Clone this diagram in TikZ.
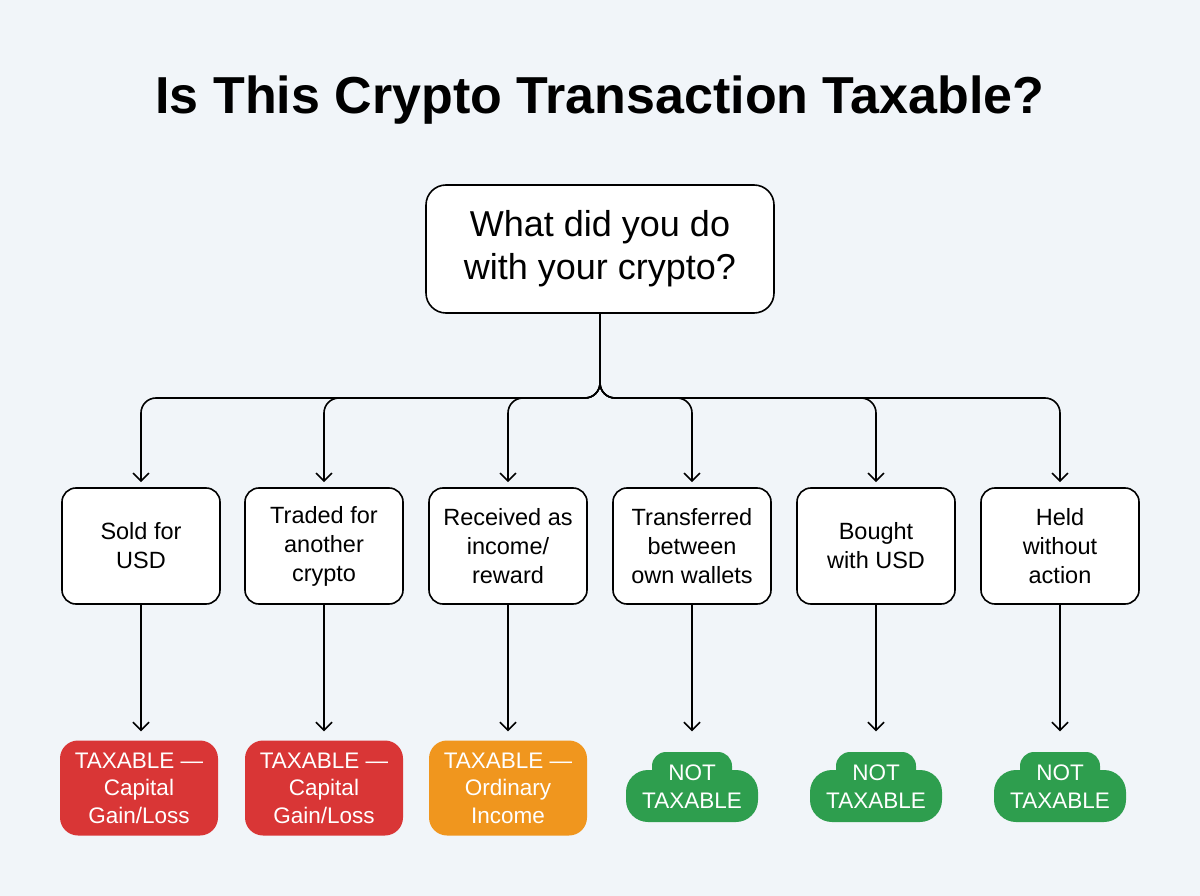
\documentclass[tikz,border=0pt]{standalone}
\usepackage{fontspec}
\setmainfont{Liberation Sans}
\usetikzlibrary{arrows.meta,calc}
\definecolor{bg}{HTML}{F1F5F9}
\definecolor{tred}{HTML}{D93636}
\definecolor{torange}{HTML}{F0961E}
\definecolor{tgreen}{HTML}{2E9E4E}
\begin{document}
\begin{tikzpicture}[x=1pt,y=-1pt,
  box/.style={draw=black,line width=1.6pt,fill=white,rounded corners=14pt,minimum width=158pt,minimum height=116pt,align=center,font=\fontsize{23.5}{29}\selectfont},
  out/.style={fill=#1,rounded corners=18pt,minimum width=158pt,minimum height=95pt,align=center,text=white,font=\fontsize{22.5}{27.5}\selectfont},
  conn/.style={line width=1.6pt,-{Straight Barb[length=8pt,width=16pt,line width=1.6pt]},shorten >=5pt},
  cloudtxt/.style={text=white,align=center,font=\fontsize{22.5}{28}\selectfont}]
\fill[bg] (0,0) rectangle (1200,896);
\useasboundingbox (0,0) rectangle (1200,896);
\node[font=\fontsize{52}{58}\selectfont\bfseries] (title) at (600,100) {Is This Crypto Transaction Taxable?};
\node[box,minimum width=348pt,minimum height=128pt,rounded corners=20pt,font=\fontsize{36}{43}\selectfont] (q) at (600,249) {What did you do\\with your crypto?};
\coordinate (J) at (600,398);
\node[box] (b1) at (141,546) {Sold for\\USD};
\node[box] (b2) at (324,546) {Traded for\\another\\crypto};
\node[box] (b3) at (508,546) {Received as\\income/\\reward};
\node[box] (b4) at (692,546) {Transferred\\between\\own wallets};
\node[box] (b5) at (876,546) {Bought\\with USD};
\node[box] (b6) at (1060,546) {Held\\without\\action};
\node[out=tred] (o1) at (139,788) {TAXABLE —\\Capital\\Gain/Loss};
\node[out=tred] (o2) at (324,788) {TAXABLE —\\Capital\\Gain/Loss};
\node[out=torange] (o3) at (508,788) {TAXABLE —\\Ordinary\\Income};
\foreach \i/\x in {4/692,5/876,6/1060}{
  \fill[tgreen,rounded corners=14pt] (\x-40,752) rectangle (\x+40,790);
  \fill[tgreen,rounded corners=22pt] (\x-66,770) rectangle (\x+66,822);
  \node[cloudtxt,minimum width=132pt,minimum height=70pt] (o\i) at (\x,787) {NOT\\TAXABLE};
}
\foreach \i in {1,...,6}{
  \draw[conn,rounded corners=15pt] (q.south) |- ($(b\i.north|-J)$) -- (b\i.north);
  \draw[conn] (b\i.south) -- ($(b\i.south|-o1.north)+(0,-4)$);
}
\end{tikzpicture}
\end{document}
